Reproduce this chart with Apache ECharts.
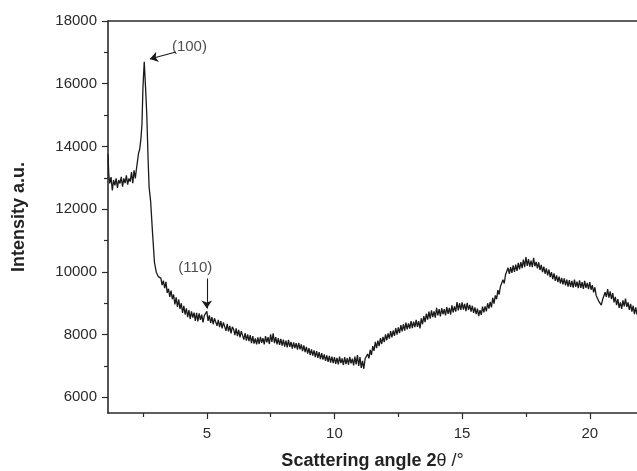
<!DOCTYPE html>
<html><head><meta charset="utf-8">
<script src="https://cdn.jsdelivr.net/npm/echarts@6/dist/echarts.min.js"></script>
<style>html,body{margin:0;padding:0;background:#fff}#c{width:637px;height:471px}</style>
</head><body><div id="c"></div>
<script>
// x (2θ) range and ticks
const xMin = 1.13, xMax = 21.85;
const xMajorTicks = [5, 10, 15, 20];
const xMinorTicks = [2.5, 7.5, 12.5, 17.5];
const yMin = 5500, yMax = 18000;
const yMajorTicks = [6000, 8000, 10000, 12000, 14000, 16000, 18000];
const yMinorTicks = [7000, 9000, 11000, 13000, 15000, 17000];

// low-angle part with (100) peak: [2θ, intensity]
const peakRegion = [
  [1.13,13750],[1.16,13100],[1.2,12820],[1.25,13020],[1.3,12600],[1.35,12930],[1.4,12760],
  [1.45,12980],[1.5,12680],[1.55,12930],[1.6,12820],[1.65,13030],[1.7,12720],[1.75,12980],
  [1.8,12830],[1.85,13080],[1.9,12780],[1.95,12980],[2.0,12880],[2.05,13180],[2.1,12830],
  [2.15,13240],[2.2,12980],[2.25,13320],[2.3,13350],[2.33,13800],[2.37,13900],[2.42,14250],
  [2.46,14700],[2.5,15900],[2.55,16700],[2.6,15900],[2.65,15000],[2.7,13600],[2.74,12700],
  [2.8,12250],[2.87,11300],[2.95,10300],[3.02,9990],[3.1,9850]
];
// remaining scan, 0.05° steps starting at 3.20°
const scanStart = 3.2, scanStep = 0.05;
const decay = [ // 3.20 - 5.00
  9800,9580,9720,9480,9680,9330,9460,9200,9400,9130,
  9280,8960,9190,8880,9120,8820,9000,8690,8920,8640,
  8840,8560,8780,8500,8740,8540,8700,8440,8690,8420,
  8680,8470,8640,8390,8600,8560,8740];
const plateau = [ // 5.05 - 10.00
  8440,8610,8370,8560,8330,8520,8480,8280,8470,8240,
  8430,8200,8390,8350,8120,8340,8100,8280,8040,8250,
  8170,7980,8200,7950,8150,7910,8110,8060,7840,8050,
  7810,8010,7790,7980,7730,7950,7710,7880,7690,7910,
  7700,7930,7740,7890,7690,7950,7750,7920,7700,8010,
  7770,8040,7730,7920,7690,7890,7670,7860,7650,7840,
  7620,7810,7590,7830,7610,7770,7550,7750,7570,7730,
  7520,7740,7530,7690,7470,7660,7440,7610,7390,7570,
  7350,7530,7330,7500,7280,7470,7260,7440,7220,7410,
  7200,7370,7160,7340,7130,7320,7110,7300,7090,7280];
const minimum = [ // 10.05 - 13.00
  7070,7260,7050,7300,7090,7240,7030,7280,7060,7250,
  7040,7290,7080,7230,7020,7300,7050,7350,7000,7280,
  6940,7160,6910,7230,7170,7380,7240,7510,7350,7630,
  7480,7770,7570,7810,7630,7890,7700,7930,7760,8010,
  7820,8040,7870,8110,7910,8130,7960,8210,8000,8230,
  8050,8300,8100,8330,8130,8380,8170,8360,8190,8430];
const rise = [ // 13.05 - 16.00
  8210,8410,8240,8470,8250,8430,8200,8520,8330,8590,
  8400,8670,8480,8730,8510,8770,8560,8740,8540,8850,
  8610,8810,8580,8840,8650,8810,8610,8880,8660,8850,
  8640,8930,8710,8900,8730,9040,8770,9000,8790,9030,
  8800,8980,8750,9010,8790,8950,8730,8920,8690,8870,
  8650,8830,8590,8780,8630,8890,8710,8900,8740,9000];
const hump = [ // 16.05 - 19.00
  8830,9040,8870,9170,8990,9250,9130,9420,9280,9530,
  9470,9750,9630,9910,9850,10130,9940,10150,9970,10210,
  10000,10230,10030,10290,10080,10310,10120,10390,10150,10470,
  10190,10410,10170,10360,10150,10450,10180,10320,10110,10300,
  10060,10220,9990,10170,9940,10110,9890,10070,9830,9990,
  9770,9950,9710,9890,9670,9850,9630,9810,9600,9790];
const tail = [ // 19.05 - 21.85
  9570,9750,9530,9740,9520,9710,9500,9750,9520,9690,
  9480,9730,9490,9670,9460,9710,9490,9650,9450,9670,
  9430,9580,9350,9510,9250,9280,9070,9100,8940,9110,
  9130,9350,9200,9450,9180,9380,9130,9320,9030,9200,
  8940,9130,8850,9030,8820,9090,8900,9150,8880,9030,
  8790,8980,8730,8920,8650,8870,8640];

// annotations
const peakLabels = [
  { text: '(100)', at: [4.32, 17190], from: [3.79, 17010], to: [2.77, 16790] },
  { text: '(110)', at: [4.55, 10120], from: [5.0, 9790], to: [5.0, 8830] }
];

const scanValues = [].concat(decay, plateau, minimum, rise, hump, tail);
const data = peakRegion.slice();
scanValues.forEach((v, i) => data.push([+(scanStart + i * scanStep).toFixed(2), v]));

const font = '"Liberation Sans", Arial, sans-serif';
const axisColor = '#2a2a2a';
const plain = v => String(v);
const chart = echarts.init(document.getElementById('c'));
chart.setOption({
  animation: false,
  grid: { left: 108, top: 21, right: 0, bottom: 58, containLabel: false, outerBoundsMode: 'none' },
  xAxis: [
    { type: 'value', min: xMin, max: xMax, position: 'bottom',
      name: '{b|Scattering angle 2}{n|θ /°}', nameLocation: 'middle', nameGap: 39,
      nameTextStyle: { rich: {
        b: { fontFamily: font, fontWeight: 'bold', fontSize: 18, color: '#222' },
        n: { fontFamily: font, fontWeight: 'normal', fontSize: 18, color: '#222' } } },
      axisLine: { show: true, onZero: false, lineStyle: { color: axisColor, width: 1.6 } },
      axisTick: { show: true, inside: false, length: 6, customValues: xMajorTicks, lineStyle: { color: axisColor, width: 1.2 } },
      axisLabel: { customValues: xMajorTicks, formatter: plain, margin: 13, color: '#2a2a2a', fontFamily: font, fontSize: 15 },
      splitLine: { show: false } },
    { type: 'value', min: xMin, max: xMax, position: 'top',
      axisLine: { show: true, onZero: false, lineStyle: { color: axisColor, width: 1.6 } },
      axisTick: { show: false }, axisLabel: { show: false }, splitLine: { show: false } },
    { type: 'value', min: xMin, max: xMax, position: 'bottom', offset: 0,
      axisLine: { show: false, onZero: false },
      axisTick: { show: true, length: 4, customValues: xMinorTicks, lineStyle: { color: axisColor, width: 1.2 } },
      axisLabel: { show: false }, splitLine: { show: false } }
  ],
  yAxis: [
    { type: 'value', min: yMin, max: yMax, position: 'left',
      name: 'Intensity a.u.', nameLocation: 'middle', nameGap: 80, nameRotate: 90,
      nameTextStyle: { fontFamily: font, fontWeight: 'bold', fontSize: 18, color: '#222' },
      axisLine: { show: true, onZero: false, lineStyle: { color: axisColor, width: 1.6 } },
      axisTick: { show: true, length: 6, customValues: yMajorTicks, lineStyle: { color: axisColor, width: 1.2 } },
      axisLabel: { customValues: yMajorTicks, formatter: plain, margin: 11, color: '#2a2a2a', fontFamily: font, fontSize: 15 },
      splitLine: { show: false } },
    { type: 'value', min: yMin, max: yMax, position: 'left', offset: 0,
      axisLine: { show: false, onZero: false },
      axisTick: { show: true, length: 4, customValues: yMinorTicks, lineStyle: { color: axisColor, width: 1.2 } },
      axisLabel: { show: false }, splitLine: { show: false } }
  ],
  series: [
    { type: 'line', xAxisIndex: 0, yAxisIndex: 0, data: data, symbol: 'none', silent: true,
      lineStyle: { color: '#1a1a1a', width: 1.3 },
      markLine: { silent: true, symbol: ['none', 'arrow'], symbolSize: 8, animation: false,
        label: { show: false },
        lineStyle: { color: '#1a1a1a', width: 1.1, type: 'solid' },
        data: peakLabels.map(p => [{ coord: p.from }, { coord: p.to }]) } },
    { type: 'scatter', xAxisIndex: 0, yAxisIndex: 0, symbolSize: 0, silent: true,
      data: peakLabels.map(p => ({ value: p.at, name: p.text })),
      label: { show: true, position: 'inside', formatter: '{b}', color: '#222', fontFamily: font, fontSize: 15 } }
  ]
});
</script></body></html>
